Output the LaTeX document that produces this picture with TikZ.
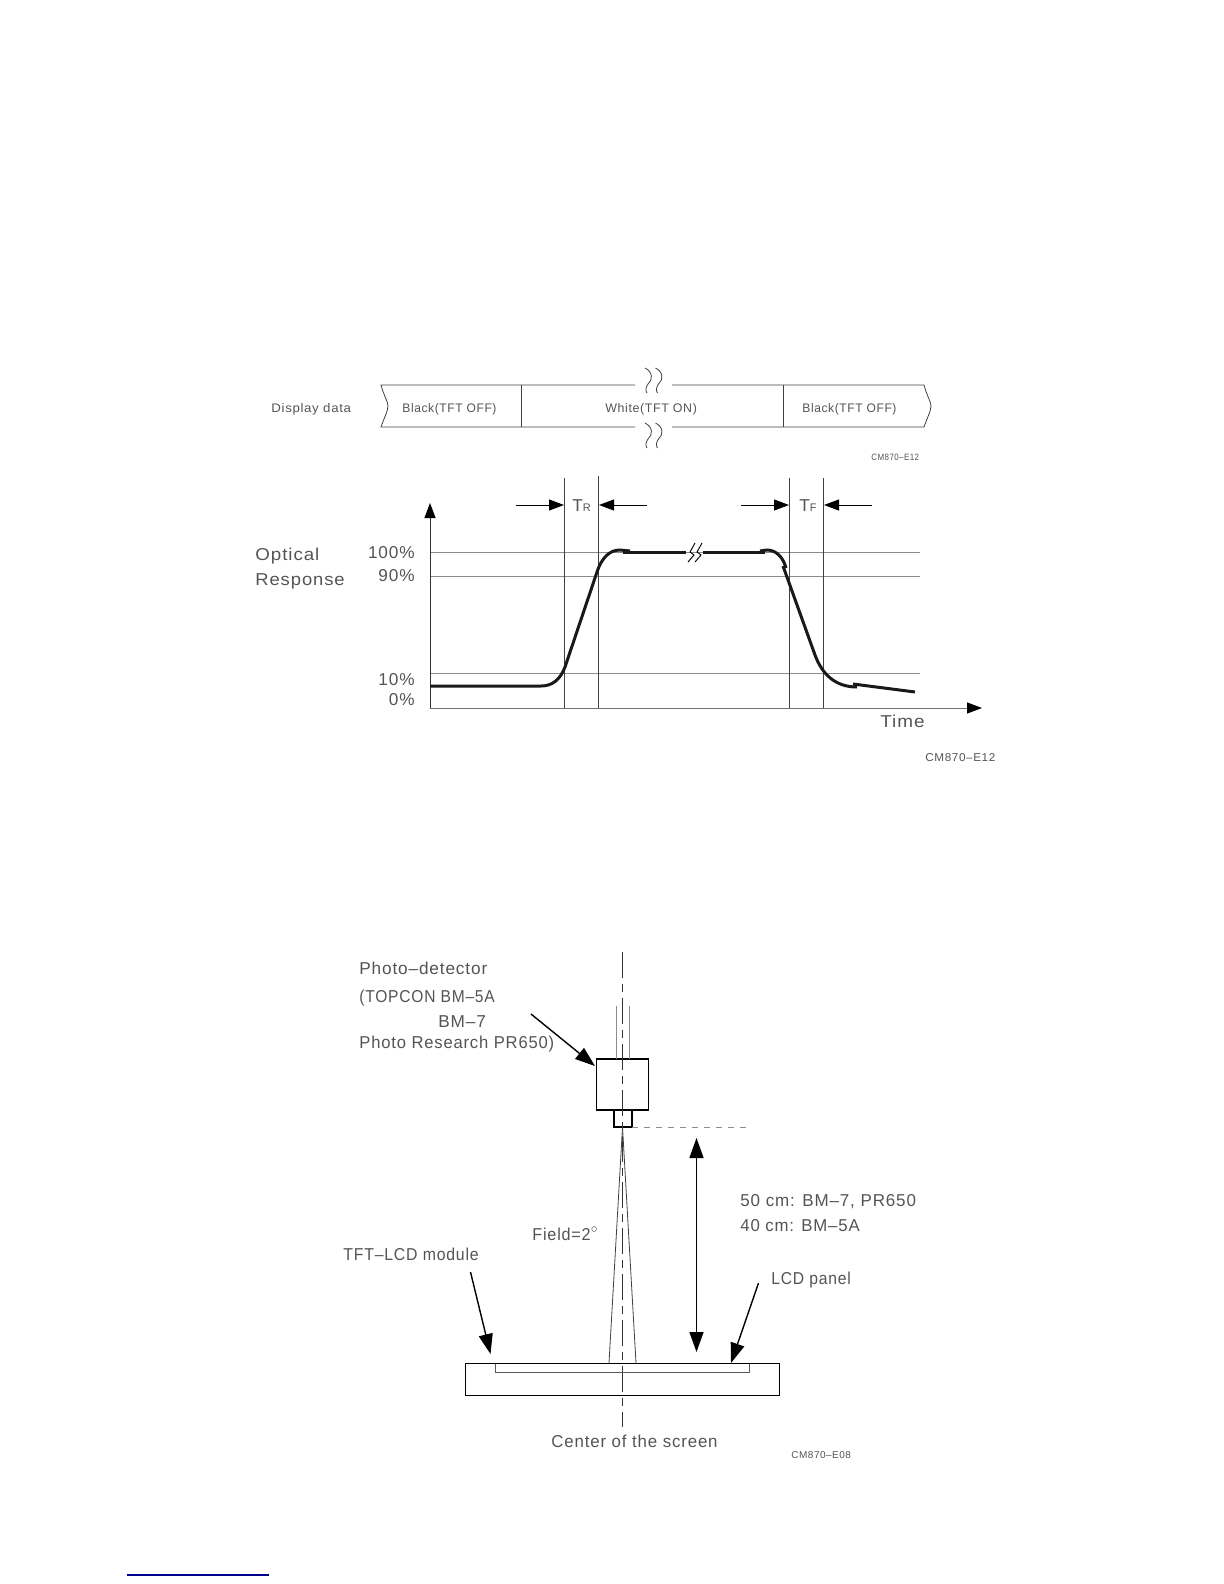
\documentclass[tikz,border=0pt]{standalone}
\usepackage{fontspec}
\setmainfont{Liberation Sans}[LetterSpace=5]
\usetikzlibrary{arrows.meta}
\definecolor{inktext}{gray}{0.33}
\newcommand{\squeezed}[2]{\scalebox{#1}[1]{#2}}
\tikzset{
	lbl/.style={anchor=west, inner sep=0pt, yshift=-0.5pt, text=inktext, font=\fontsize{8.6}{10}\selectfont},
	lblsmall/.style={lbl, font=\fontsize{6.2}{8}\selectfont},
	lbltiny/.style={lbl, font=\fontsize{4.6}{6}\selectfont},
	hair/.style={line width=0.4pt, black!75},
	grid/.style={line width=0.45pt, black!45},
	resp/.style={line width=1.5pt, black!90},
	box/.style={line width=0.55pt, black},
	dashdot/.style={line width=0.4pt, black!80, dash pattern=on 13pt off 3pt on 4pt off 3pt},
	tipa/.style={-{Triangle[length=7.5pt,width=5.5pt,color=black]}, line width=0.5pt},
	tipb/.style={-{Triangle[length=10pt,width=7pt]}, line width=0.7pt},
}
\begin{document}
\begin{tikzpicture}[x=0.5pt, y=-0.5pt]
	\useasboundingbox (0,0) rectangle (1224,1584);
	% display data band
	\node[lblsmall] (lbldata) at (271,408) {\squeezed{1.07}{Display data}};
	\node[lblsmall] (lblblacka) at (402,408) {\squeezed{0.97}{Black(TFT OFF)}};
	\node[lblsmall] (lblwhite) at (605,408) {White(TFT ON)};
	\node[lblsmall] (lblblackb) at (802,408) {\squeezed{0.97}{Black(TFT OFF)}};
	\node[lbltiny] (lblcodea) at (871,456) {\squeezed{0.87}{CM870--E12}};
	\draw[hair] (635,385) -- (381,385) .. controls (384,396) and (388,402) .. (388,406) .. controls (388,411) and (384,418) .. (381,427) -- (635,427);
	\draw[hair] (672,385) -- (924,385) .. controls (927,396) and (931,402) .. (931,406) .. controls (931,411) and (927,418) .. (924,427) -- (672,427);
	\draw[hair] (521,385) -- (521,427);
	\draw[hair] (783,385) -- (783,427);
	\foreach \x in {645,655.5} {
		\draw[hair] (\x,368) .. controls (\x+8,372) and (\x+8,380) .. (\x+3,384) .. controls (\x+1,387) and (\x,390) .. (\x+2,393);
		\draw[hair] (\x,423) .. controls (\x+8,427) and (\x+8,435) .. (\x+3,439) .. controls (\x+1,442) and (\x,445) .. (\x+2,448);
	}
	% optical response
	\node[lbl] (lbloptical) at (255,555) {\squeezed{1.09}{Optical}};
	\node[lbl] (lblresponse) at (255,580) {\squeezed{1.07}{Response}};
	\node[lbl, anchor=east] (lblhund) at (415,552) {100\%};
	\node[lbl, anchor=east] (lblninety) at (415,575) {90\%};
	\node[lbl, anchor=east] (lblten) at (415,679) {10\%};
	\node[lbl, anchor=east] (lblzero) at (415,699) {0\%};
	\node[lbl] (lbltime) at (880,720) {\squeezed{1.1}{Time}};
	\node[lbl] (lbltr) at (572,505) {T{\fontsize{5.5}{6}\selectfont R}};
	\node[lbl] (lbltf) at (799,505) {T{\fontsize{5.5}{6}\selectfont F}};
	\node[lblsmall, font=\fontsize{5.7}{7}\selectfont] (lblcodeb) at (925,757) {\squeezed{1.03}{CM870--E12}};
	\foreach \y in {552,576,673} {
		\draw[grid] (430,\y) -- (920,\y);
	}
	\draw[tipa, black!80] (430,708) -- (430,503);
	\draw[tipa, black!55] (430,708) -- (982,708);
	\foreach \x/\y in {564/478,598/476,789/478,823/478} {
		\draw[hair] (\x,\y) -- (\x,708);
	}
	\draw[tipa] (516,505) -- (564,505);
	\draw[tipa] (647,505) -- (599,505);
	\draw[tipa] (741,505) -- (789,505);
	\draw[tipa] (872,505) -- (824,505);
	\draw[resp] (430,686) -- (541,686) .. controls (552,686) and (560,680) .. (565,667) -- (597,572) .. controls (602,557) and (610,550) .. (620,550) -- (630,551);
	\draw[resp] (623,552.5) -- (686,552.5);
	\draw[resp] (703,552.5) -- (765,552.5);
	\draw[resp] (760,551) -- (767,550) .. controls (776,550) and (783,557) .. (786,568);
	\draw[resp] (783,566) -- (815,655) .. controls (822,674) and (835,687) .. (857,687);
	\draw[resp] (853,684) -- (915,692);
	\foreach \x in {0,7} {
		\draw[line width=0.45pt] (695+\x,543) -- (690+\x,552) -- (694+\x,555) -- (688+\x,562);
	}
	% photo detector setup
	\node[lbl] (lblphoto) at (359,967) {Photo--detector};
	\node[lbl] (lbltopcon) at (359,997) {\squeezed{0.905}{(TOPCON BM--5A}};
	\node[lbl] (lblbmseven) at (438,1021) {BM--7};
	\node[lbl] (lblresearch) at (359,1043) {\squeezed{0.965}{Photo Research PR650)}};
	\node[lbl] (lblfield) at (532,1233) {\squeezed{0.94}{Field=2$^{\circ}$}};
	\node[lbl] (lblmodule) at (343,1253) {\squeezed{0.92}{TFT--LCD module}};
	\node[lbl] (lblfifty) at (740,1201) {\squeezed{0.99}{50 cm: BM--7, PR650}};
	\node[lbl] (lblforty) at (740,1225) {\squeezed{0.975}{40 cm: BM--5A}};
	\node[lbl] (lblpanel) at (771,1279) {\squeezed{0.91}{LCD panel}};
	\node[lbl] (lblcenter) at (551,1440) {\squeezed{0.98}{Center of the screen}};
	\node[lbltiny, font=\fontsize{5}{6}\selectfont] (lblcodec) at (791,1454) {CM870--E08};
	\draw[box] (596.5,1059) rectangle (648.5,1110);
	\draw[box] (614,1110) rectangle (632,1127);
	\draw[grid] (616,1006) -- (616,1059);
	\draw[grid] (629,1006) -- (629,1059);
	\draw[grid, dashed] (632,1127) -- (749,1127);
	\draw[dashdot] (622.5,952) -- (622.5,1427);
	\draw[hair] (622.5,1127) -- (609,1363);
	\draw[hair] (622.5,1127) -- (636,1363);
	\draw[box] (465.5,1363.5) rectangle (779.5,1395.5);
	\draw[grid, black!65] (495.5,1363.5) -- (495.5,1372.5) -- (749.5,1372.5) -- (749.5,1363.5);
	\draw[tipb] (531,1014) -- (595,1066);
	\draw[tipb, {Triangle[length=10pt,width=7pt]}-{Triangle[length=10pt,width=7pt]}] (696.5,1138) -- (696.5,1352);
	\draw[tipb] (470.5,1272) -- (490.5,1354);
	\draw[tipb] (758.5,1283) -- (731,1363);
	% link rule at the foot of the page
	\draw[line width=0.7pt, blue!55!black] (127,1575) -- (269,1575);
\end{tikzpicture}
\end{document}
